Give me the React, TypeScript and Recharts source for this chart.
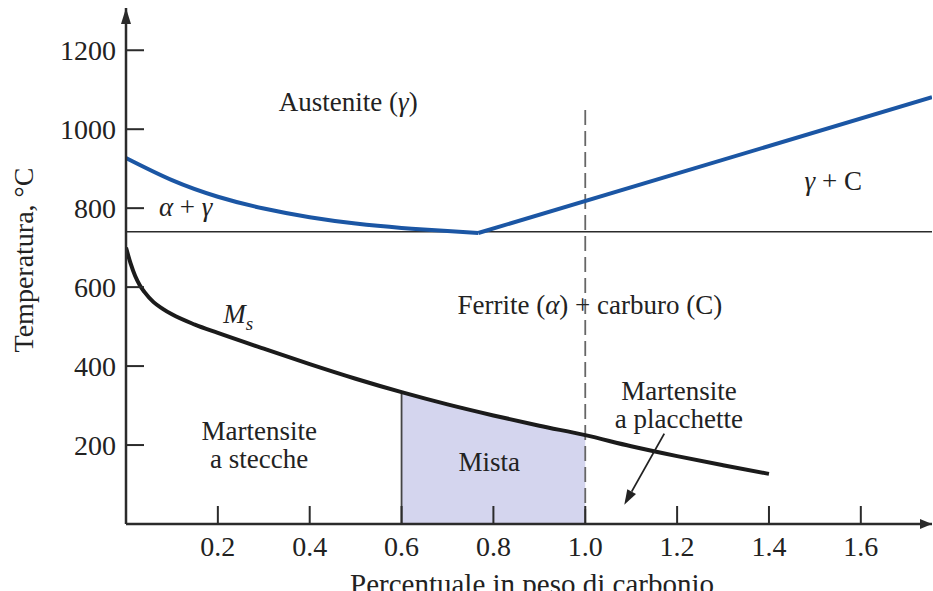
import React from "react";
import { ComposedChart, Line, Area, XAxis, YAxis, ReferenceLine, ReferenceDot } from "recharts";

const X_TICKS = [0.2, 0.4, 0.6, 0.8, 1.0, 1.2, 1.4, 1.6];
const Y_TICKS = [200, 400, 600, 800, 1000, 1200];

// A3 boundary (austenite / alpha + gamma), down to the eutectoid point
const A3_C = [0, 0.1, 0.2, 0.3, 0.4, 0.5, 0.6, 0.7, 0.767];
const A3_T = [927, 871, 829, 799, 777, 761, 750, 742, 737];

// Acm boundary (austenite / gamma + C)
const ACM_C = [0.767, 1.755];
const ACM_T = [737, 1081];

const EUTECTOID_T = 740;

// martensite start temperature
const MS_C = [0, 0.01, 0.02, 0.03, 0.04, 0.06, 0.08, 0.1, 0.15, 0.2, 0.3, 0.4, 0.5, 0.6, 0.7, 0.8, 0.9, 1.0, 1.1, 1.2, 1.3, 1.4];
const MS_T = [700, 660, 628, 605, 588, 562, 545, 531, 505, 484, 444, 405, 368, 334, 303, 275, 249, 225, 197, 172, 149, 127];

// lath + plate region
const MIXED_FROM = 0.6;
const MIXED_TO = 1.0;
const DASH_TOP = 1054;

const X_MAX = 1.755;
const Y_MAX = 1307;

const BLUE = "#1b56a4";
const INK = "#222";
const AXIS = "#2b2b2b";
const FONT = "'Liberation Serif', 'Times New Roman', serif";

const pts = (cs: number[], ts: number[]) => cs.map((c, i) => ({ c, t: ts[i] }));

const a3 = pts(A3_C, A3_T);
const acm = pts(ACM_C, ACM_T);
const ms = pts(MS_C, MS_T);
const mixed = ms.filter((p) => p.c >= MIXED_FROM && p.c <= MIXED_TO);
const msAtFrom = MS_T[MS_C.indexOf(MIXED_FROM)];

const XTick = ({ x, y, payload }: any) => (
  <g>
    <line x1={x} x2={x} y1={y} y2={y - 18} stroke={AXIS} strokeWidth={2} />
    <text x={x} y={y + 32} textAnchor="middle" fontFamily={FONT} fontSize={28} fill={INK}>
      {Number(payload.value).toFixed(1)}
    </text>
  </g>
);

const YTick = ({ x, y, payload }: any) => (
  <g>
    <line x1={x} x2={x + 18} y1={y} y2={y} stroke={AXIS} strokeWidth={2} />
    <text x={x - 10} y={y + 10} textAnchor="end" fontFamily={FONT} fontSize={28} fill={INK}>
      {payload.value}
    </text>
  </g>
);

// text block anchored at a data point, one tspan per line
const note =
  (lines: React.ReactNode[], anchor: "start" | "middle" = "middle") =>
  ({ cx, cy }: any) => (
    <text x={cx} y={cy} textAnchor={anchor} fontFamily={FONT} fontSize={27} fill={INK}>
      {lines.map((l, i) => (
        <tspan key={i} x={cx} dy={i === 0 ? 0 : 28}>
          {l}
        </tspan>
      ))}
    </text>
  );

const ArrowLine = ({ x1, y1, x2, y2 }: any) => {
  const a = Math.atan2(y2 - y1, x2 - x1);
  const len = 15;
  const w = 5;
  const bx = x2 - len * Math.cos(a);
  const by = y2 - len * Math.sin(a);
  const px = -Math.sin(a) * w;
  const py = Math.cos(a) * w;
  return (
    <g>
      <line x1={x1} y1={y1} x2={bx} y2={by} stroke={INK} strokeWidth={1.8} />
      <polygon points={`${x2},${y2} ${bx + px},${by + py} ${bx - px},${by - py}`} fill={INK} />
    </g>
  );
};

const UpHead = ({ cx, cy }: any) => (
  <polygon points={`${cx},${cy} ${cx - 5},${cy + 16} ${cx + 5},${cy + 16}`} fill={AXIS} />
);
const RightHead = ({ cx, cy }: any) => (
  <polygon points={`${cx},${cy} ${cx - 12},${cy - 5} ${cx - 12},${cy + 5}`} fill={AXIS} />
);

const I = ({ children, ...rest }: any) => (
  <tspan fontStyle="italic" {...rest}>
    {children}
  </tspan>
);

export default function App() {
  return (
    <div style={{ width: 933, height: 591, background: "#fff", overflow: "hidden" }}>
      <style>{"body{margin:0}"}</style>
      <ComposedChart width={933} height={591} margin={{ top: 8, right: 1, bottom: 37, left: 66 }}>
        <XAxis
          dataKey="c"
          type="number"
          domain={[0, X_MAX]}
          ticks={X_TICKS}
          interval={0}
          allowDataOverflow
          tickSize={0}
          tickMargin={0}
          tick={<XTick />}
          axisLine={{ stroke: AXIS, strokeWidth: 2.5 }}
          tickLine={false}
          height={30}
          label={{
            content: () => (
              <text x={532} y={594} textAnchor="middle" fontFamily={FONT} fontSize={29} fill={INK}>
                Percentuale in peso di carbonio
              </text>
            ),
          }}
        />
        <YAxis
          type="number"
          domain={[0, Y_MAX]}
          ticks={Y_TICKS}
          interval={0}
          allowDataOverflow
          tickSize={0}
          tickMargin={0}
          tick={<YTick />}
          axisLine={{ stroke: AXIS, strokeWidth: 2.5 }}
          tickLine={false}
          width={60}
          label={{
            content: () => (
              <text
                transform="translate(33,260) rotate(-90)"
                textAnchor="middle"
                fontFamily={FONT}
                fontSize={28}
                fill={INK}
              >
                Temperatura, °C
              </text>
            ),
          }}
        />

        <Area
          data={mixed}
          dataKey="t"
          type="monotone"
          fill="#d4d5ee"
          fillOpacity={1}
          stroke="none"
          isAnimationActive={false}
        />

        <ReferenceLine y={EUTECTOID_T} stroke={AXIS} strokeWidth={1.5} />
        <ReferenceLine
          segment={[
            { x: MIXED_FROM, y: 0 },
            { x: MIXED_FROM, y: msAtFrom },
          ]}
          stroke="#444"
          strokeWidth={1.8}
        />
        <ReferenceLine
          segment={[
            { x: MIXED_TO, y: 0 },
            { x: MIXED_TO, y: DASH_TOP },
          ]}
          stroke="#666"
          strokeWidth={1.8}
          strokeDasharray="15 6"
        />

        <Line data={a3} dataKey="t" type="natural" stroke={BLUE} strokeWidth={4} dot={false} isAnimationActive={false} />
        <Line data={acm} dataKey="t" type="linear" stroke={BLUE} strokeWidth={4} dot={false} isAnimationActive={false} />
        <Line data={ms} dataKey="t" type="monotone" stroke="#1b1b1b" strokeWidth={4} dot={false} isAnimationActive={false} />

        <ReferenceLine
          segment={[
            { x: 1.172, y: 229 },
            { x: 1.085, y: 49 },
          ]}
          shape={<ArrowLine />}
        />

        <ReferenceDot x={0} y={Y_MAX} ifOverflow="visible" shape={<UpHead />} />
        <ReferenceDot x={X_MAX} y={0} ifOverflow="visible" shape={<RightHead />} />

        <ReferenceDot
          x={0.484}
          y={1047}
          ifOverflow="visible"
          shape={note([<>Austenite (<I>γ</I>)</>])}
        />
        <ReferenceDot x={0.13} y={780} ifOverflow="visible" shape={note([<><I>α</I> + <I>γ</I></>])} />
        <ReferenceDot x={1.54} y={846} ifOverflow="visible" shape={note([<><I>γ</I> + C</>])} />
        <ReferenceDot
          x={1.01}
          y={532}
          ifOverflow="visible"
          shape={note([<>Ferrite (<I>α</I>) + carburo (C)</>])}
        />
        <ReferenceDot
          x={0.212}
          y={510}
          ifOverflow="visible"
          shape={note([<><I>M</I><I fontSize={19} dy={7}>s</I></>], "start")}
        />
        <ReferenceDot x={0.29} y={213} ifOverflow="visible" shape={note(["Martensite", "a stecche"])} />
        <ReferenceDot x={0.791} y={133} ifOverflow="visible" shape={note(["Mista"])} />
        <ReferenceDot x={1.204} y={315} ifOverflow="visible" shape={note(["Martensite", "a placchette"])} />
      </ComposedChart>
    </div>
  );
}
